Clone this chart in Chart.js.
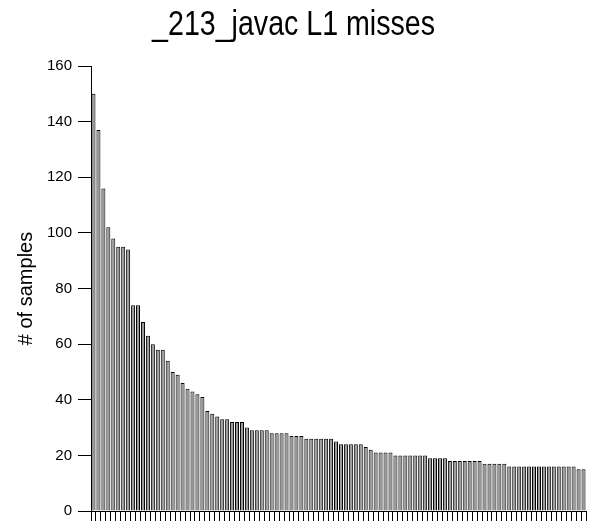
<!DOCTYPE html>
<html>
<head>
<meta charset="utf-8">
<script src="https://cdn.jsdelivr.net/npm/chart.js@4/dist/chart.umd.min.js"></script>
<style>
  html, body { margin: 0; padding: 0; background: #fff; }
  #c { display: block; }
</style>
</head>
<body>
<canvas id="c" width="589" height="527"></canvas>
<script>
const chartTitle = '_213_javac L1 misses';
const yAxisTitle = '# of samples';
const categories = [
  1,2,3,4,5,6,7,8,9,10,11,12,13,14,15,16,17,18,19,20,
  21,22,23,24,25,26,27,28,29,30,31,32,33,34,35,36,37,38,39,40,
  41,42,43,44,45,46,47,48,49,50,51,52,53,54,55,56,57,58,59,60,
  61,62,63,64,65,66,67,68,69,70,71,72,73,74,75,76,77,78,79,80,
  81,82,83,84,85,86,87,88,89,90,91,92,93,94,95,96,97,98,99,100
];
const samples = [
  150,137,116,102,98,95,95,94,74,74,
  68,63,60,58,58,54,50,49,46,44,
  43,42,41,36,35,34,33,33,32,32,
  32,30,29,29,29,29,28,28,28,28,
  27,27,27,26,26,26,26,26,26,25,
  24,24,24,24,24,23,22,21,21,21,
  21,20,20,20,20,20,20,20,19,19,
  19,19,18,18,18,18,18,18,18,17,
  17,17,17,17,16,16,16,16,16,16,
  16,16,16,16,16,16,16,16,15,15
];
const yTicks = [0, 20, 40, 60, 80, 100, 120, 140, 160];

// Narrow the title horizontally (reference uses a condensed face)
const narrowTitle = {
  id: 'narrowTitle',
  afterInit(chart) {
    const tb = chart.titleBlock;
    if (!tb || tb._narrowed) return;
    const orig = tb.draw;
    tb.draw = function () {
      const ctx = chart.ctx;
      const cx = 296;
      ctx.save();
      ctx.translate(cx, 0);
      ctx.scale(0.817, 1);
      ctx.translate(-cx, 0);
      orig.apply(this, arguments);
      ctx.restore();
    };
    tb._narrowed = true;
  }
};

new Chart(document.getElementById('c'), {
  type: 'bar',
  data: {
    labels: categories,
    datasets: [{
      data: samples,
      backgroundColor: '#999999',
      borderColor: '#000000',
      borderWidth: 1,
      barPercentage: 0.81,
      categoryPercentage: 1.0
    }]
  },
  plugins: [narrowTitle],
  options: {
    responsive: false,
    animation: false,
    devicePixelRatio: 1,
    layout: { padding: { top: 0, right: 3, bottom: 6, left: 0 } },
    plugins: {
      legend: { display: false },
      tooltip: { enabled: false },
      title: {
        display: true,
        text: chartTitle,
        color: '#000000',
        font: { family: "'Liberation Sans', Arial, sans-serif", size: 35, weight: 'normal' },
        padding: { top: 4, bottom: 20 }
      }
    },
    scales: {
      x: {
        grid: { display: true, drawOnChartArea: false, drawTicks: true, tickLength: 10, color: '#000000', offset: true },
        border: { display: true, color: '#000000', width: 1 },
        ticks: { display: false }
      },
      y: {
        min: yTicks[0],
        max: yTicks[yTicks.length - 1],
        afterBuildTicks: (s) => { s.ticks = yTicks.map(v => ({ value: v })); },
        ticks: {
          color: '#000000',
          font: { family: "'Liberation Sans', Arial, sans-serif", size: 15 },
          padding: 6
        },
        grid: { display: true, drawOnChartArea: false, tickLength: 13, color: '#000000' },
        border: { display: true, color: '#000000', width: 1 },
        title: {
          display: true,
          text: yAxisTitle,
          color: '#000000',
          font: { family: "'Liberation Sans', Arial, sans-serif", size: 20 },
          padding: { top: 14, bottom: 0 }
        },
        afterFit: (s) => { s.width = 91; }
      }
    }
  }
});
</script>
</body>
</html>
